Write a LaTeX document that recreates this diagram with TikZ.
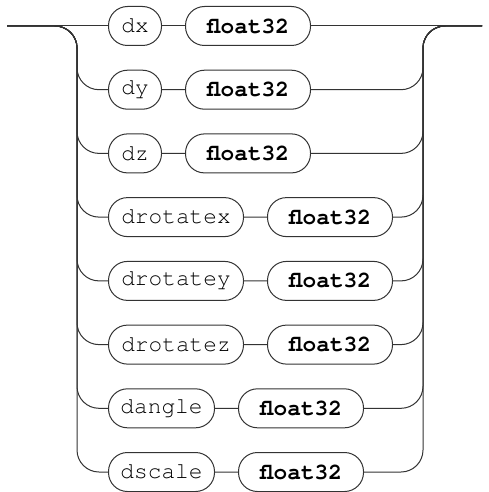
\documentclass[tikz,border=0pt]{standalone}
\usepackage{fontspec}
\newfontfamily\railfont{TeX Gyre Cursor}
\usetikzlibrary{positioning}

\tikzset{
  rail/.style={draw=black!80, line width=1pt, rounded corners=22pt},
  term/.style={draw=black!80, line width=1pt, rectangle, rounded corners=19pt,
    minimum height=39pt, inner sep=0pt, anchor=west,
    font=\railfont\fontsize{22.8}{24}\selectfont},
  type/.style={term, font=\railfont\bfseries\fontsize{22.8}{24}\selectfont,
    minimum width=125pt}
}

\begin{document}
\begin{tikzpicture}[x=1pt, y=-1pt, node distance=23pt]
    \useasboundingbox (0,0) rectangle (489,492);

    \coordinate (start) at (7,26);
    \coordinate (end)   at (482,26);
    \coordinate (lx)    at (77,26);
    \coordinate (rx)    at (423,26);

    % choices
    \node[term, minimum width=53pt]  (dx)  at (108,26)    {dx};
    \node[term, minimum width=53pt]  (dy)  at (108,89.7)  {dy};
    \node[term, minimum width=53pt]  (dz)  at (108,153.4) {dz};
    \node[term, minimum width=135pt] (drx) at (108,217.1) {drotatex};
    \node[term, minimum width=135pt] (dry) at (108,280.9) {drotatey};
    \node[term, minimum width=135pt] (drz) at (108,344.6) {drotatez};
    \node[term, minimum width=106pt] (dang) at (108,408.3) {dangle};
    \node[term, minimum width=106pt] (dsc) at (108,472)   {dscale};

    % values
    \node[type] (f1) [right=of dx]   {float32};
    \node[type] (f2) [right=of dy]   {float32};
    \node[type] (f3) [right=of dz]   {float32};
    \node[type] (f4) [right=of drx]  {float32};
    \node[type] (f5) [right=of dry]  {float32};
    \node[type] (f6) [right=of drz]  {float32};
    \node[type] (f7) [right=of dang] {float32};
    \node[type] (f8) [right=of dsc]  {float32};

    \draw[rail] (start) -- (dx) -- (f1) -- (end);

    \draw[rail] (start) -| (lx |- dy) -- (dy) -- (f2) -- (rx |- f2) |- (end);
    \draw[rail] (start) -| (lx |- dz) -- (dz) -- (f3) -- (rx |- f3) |- (end);
    \draw[rail] (start) -| (lx |- drx) -- (drx) -- (f4) -- (rx |- f4) |- (end);
    \draw[rail] (start) -| (lx |- dry) -- (dry) -- (f5) -- (rx |- f5) |- (end);
    \draw[rail] (start) -| (lx |- drz) -- (drz) -- (f6) -- (rx |- f6) |- (end);
    \draw[rail] (start) -| (lx |- dang) -- (dang) -- (f7) -- (rx |- f7) |- (end);
    \draw[rail] (start) -| (lx |- dsc) -- (dsc) -- (f8) -- (rx |- f8) |- (end);
\end{tikzpicture}
\end{document}
